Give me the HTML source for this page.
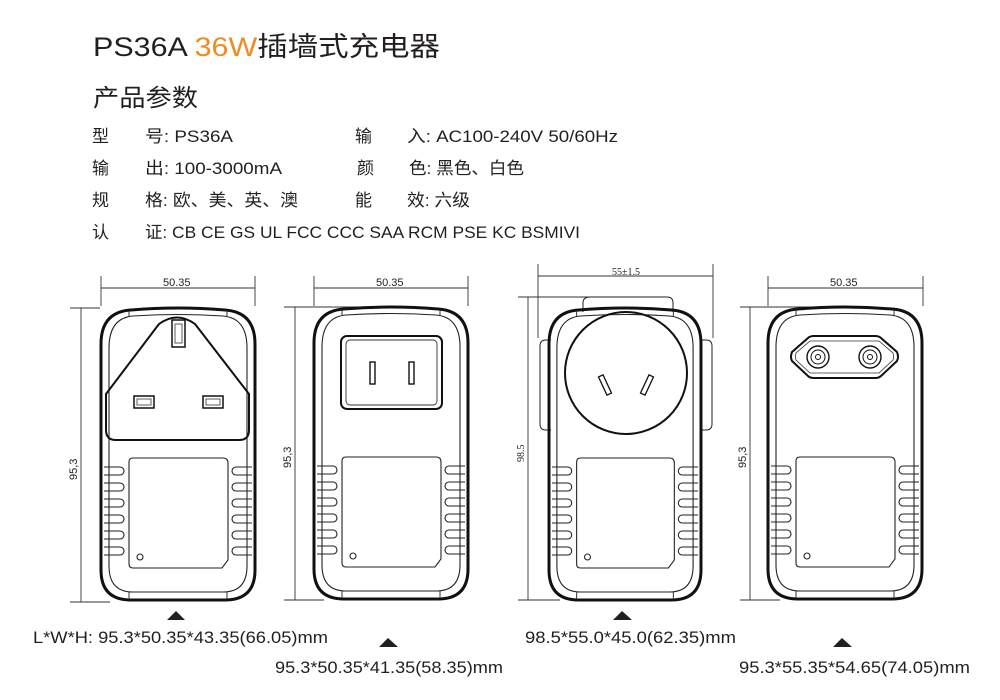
<!DOCTYPE html>
<html><head><meta charset="utf-8"><style>
html,body{margin:0;padding:0;background:#fff;}
svg{display:block}
.t{font-family:"Liberation Sans","Noto Sans CJK SC",sans-serif;fill:#231f20}
</style></head><body>
<svg width="1000" height="700" viewBox="0 0 1000 700" xmlns="http://www.w3.org/2000/svg">
<defs>
<g id="body">
  <path d="M0,36 Q0,4 30,2 Q77,-2 124,2 Q154,4 154,36 L154,262 Q154,292 124,292 L30,292 Q0,292 0,262 Z" fill="none" stroke="#111" stroke-width="3"/>
  <path d="M8,40 Q8,10 32,8 Q77,5 122,8 Q146,10 146,40 L146,258 Q146,284 122,284 L32,284 Q8,284 8,258 Z" fill="none" stroke="#222" stroke-width="1.1"/>
  <line x1="28" y1="3" x2="28" y2="8" stroke="#333"/><line x1="126" y1="3" x2="126" y2="8" stroke="#333"/>
  <line x1="28" y1="284" x2="28" y2="291" stroke="#333"/><line x1="126" y1="284" x2="126" y2="291" stroke="#333"/>
  <g fill="none" stroke="#222" stroke-width="1.1">
    <path d="M3,159 L19,159 A4,4 0 0 1 19,167 L3,167"/><path d="M3,175 L19,175 A4,4 0 0 1 19,183 L3,183"/>
    <path d="M3,191 L19,191 A4,4 0 0 1 19,199 L3,199"/><path d="M3,207 L19,207 A4,4 0 0 1 19,215 L3,215"/>
    <path d="M3,223 L19,223 A4,4 0 0 1 19,231 L3,231"/><path d="M3,239 L19,239 A4,4 0 0 1 19,247 L3,247"/>
    <path d="M151,159 L135,159 A4,4 0 0 0 135,167 L151,167"/><path d="M151,175 L135,175 A4,4 0 0 0 135,183 L151,183"/>
    <path d="M151,191 L135,191 A4,4 0 0 0 135,199 L151,199"/><path d="M151,207 L135,207 A4,4 0 0 0 135,215 L151,215"/>
    <path d="M151,223 L135,223 A4,4 0 0 0 135,231 L151,231"/><path d="M151,239 L135,239 A4,4 0 0 0 135,247 L151,247"/>
    <path d="M32,150 L122,150 Q127,150 127,155 L127,252 L121,260 L32,260 Q28,260 28,256 L28,154 Q28,150 32,150 Z"/>
    <circle cx="39" cy="249" r="3"/>
  </g>
</g>
</defs>

<text class="t" x="93" y="56" font-size="27" textLength="347" lengthAdjust="spacingAndGlyphs">PS36A <tspan fill="#f08a24">36W</tspan>插墙式充电器</text>
<text class="t" x="93" y="106" font-size="24" textLength="105" lengthAdjust="spacingAndGlyphs">产品参数</text>
<g class="t" font-size="17">
<text x="92" y="142">型</text><text x="145" y="142" textLength="88" lengthAdjust="spacingAndGlyphs">号: PS36A</text>
<text x="355" y="142">输</text><text x="407" y="142" textLength="211" lengthAdjust="spacingAndGlyphs">入: AC100-240V 50/60Hz</text>
<text x="92" y="174">输</text><text x="145" y="174" textLength="137" lengthAdjust="spacingAndGlyphs">出: 100-3000mA</text>
<text x="357" y="174">颜</text><text x="409" y="174" textLength="115" lengthAdjust="spacingAndGlyphs">色: 黑色、白色</text>
<text x="92" y="206">规</text><text x="145" y="206" textLength="153" lengthAdjust="spacingAndGlyphs">格: 欧、美、英、澳</text>
<text x="355" y="206">能</text><text x="407" y="206" textLength="63" lengthAdjust="spacingAndGlyphs">效: 六级</text>
<text x="92" y="238">认</text><text x="145" y="238" textLength="435" lengthAdjust="spacingAndGlyphs">证: CB CE GS UL FCC CCC SAA RCM PSE KC BSMIVI</text>
</g>

<!-- Device 1 (UK) -->
<g fill="none" stroke="#333" stroke-width="0.9">
<line x1="101" y1="276" x2="101" y2="306"/><line x1="255" y1="276" x2="255" y2="306"/>
<line x1="101" y1="288" x2="255" y2="288"/>
<line x1="70" y1="308" x2="100" y2="308"/><line x1="70" y1="602" x2="110" y2="602"/>
<line x1="81" y1="308" x2="81" y2="602"/>
</g>
<text class="t" x="163" y="286" font-size="11">50.35</text>
<text class="t" font-size="11" transform="translate(77,480) rotate(-90)">95,3</text>
<g transform="translate(101,308)"><use href="#body"/>
<path d="M5,86 L58,16 Q76,3 94,16 L148,86 L148,122 Q148,132 138,132 L15,132 Q5,132 5,122 Z" fill="none" stroke="#111" stroke-width="2"/>
<rect x="71" y="12" width="13" height="27" fill="none" stroke="#111" stroke-width="1.5"/><rect x="74" y="16" width="7" height="19" fill="none" stroke="#333" stroke-width="0.8"/>
<rect x="33" y="88" width="20" height="12" fill="none" stroke="#111" stroke-width="1.5"/><rect x="36" y="91" width="14" height="6" fill="none" stroke="#333" stroke-width="0.8"/>
<rect x="102" y="88" width="20" height="12" fill="none" stroke="#111" stroke-width="1.5"/><rect x="105" y="91" width="14" height="6" fill="none" stroke="#333" stroke-width="0.8"/>
</g>

<!-- Device 2 -->
<g fill="none" stroke="#333" stroke-width="0.9">
<line x1="314" y1="276" x2="314" y2="306"/><line x1="468" y1="276" x2="468" y2="306"/>
<line x1="314" y1="288" x2="468" y2="288"/>
<line x1="284" y1="307" x2="360" y2="307"/><line x1="284" y1="600" x2="324" y2="600"/>
<line x1="295" y1="307" x2="295" y2="600"/>
</g>
<text class="t" x="376" y="286" font-size="11">50.35</text>
<text class="t" font-size="11" transform="translate(291,468) rotate(-90)">95,3</text>
<g transform="translate(314,307)"><use href="#body"/>
<rect x="27" y="29" width="101" height="73" rx="6" fill="none" stroke="#111" stroke-width="2"/>
<rect x="32" y="33" width="91" height="65" rx="4" fill="none" stroke="#333" stroke-width="0.9"/>
<rect x="56" y="55" width="5" height="22" fill="none" stroke="#111" stroke-width="1.4"/>
<rect x="95" y="55" width="5" height="22" fill="none" stroke="#111" stroke-width="1.4"/>
</g>

<!-- Device 3 -->
<g fill="none" stroke="#333" stroke-width="0.9">
<line x1="538" y1="264" x2="538" y2="338"/><line x1="713" y1="264" x2="713" y2="338"/>
<line x1="538" y1="276" x2="713" y2="276"/>
<line x1="518" y1="297" x2="590" y2="297"/><line x1="518" y1="600" x2="560" y2="600"/>
<line x1="528" y1="297" x2="528" y2="600"/>
</g>
<text class="t" x="612" y="275" font-size="10" style="font-family:'Liberation Serif',serif">55±1.5</text>
<text class="t" font-size="10" transform="translate(524,462) rotate(-90)" style="font-family:'Liberation Serif',serif">98.5</text>
<g fill="none" stroke="#222" stroke-width="1">
<path d="M583,312 L583,303 Q583,297 590,297 L667,297 Q673,297 673,303 L673,312"/>
<path d="M551,340 L546,340 Q540,340 540,346 L540,424 Q540,430 546,430 L551,430"/>
<path d="M701,340 L706,340 Q712,340 712,346 L712,424 Q712,430 706,430 L701,430"/>
</g>
<g transform="translate(549,308) scale(0.987,1)"><use href="#body"/></g>
<circle cx="626" cy="373" r="61" fill="none" stroke="#111" stroke-width="2"/>
<g transform="translate(605,385) rotate(-25)"><rect x="-2.5" y="-10" width="5" height="20" fill="none" stroke="#111" stroke-width="1.3"/></g>
<g transform="translate(647,385) rotate(25)"><rect x="-2.5" y="-10" width="5" height="20" fill="none" stroke="#111" stroke-width="1.3"/></g>

<!-- Device 4 -->
<g fill="none" stroke="#333" stroke-width="0.9">
<line x1="768" y1="276" x2="768" y2="306"/><line x1="923" y1="276" x2="923" y2="306"/>
<line x1="768" y1="288" x2="923" y2="288"/>
<line x1="740" y1="307" x2="815" y2="307"/><line x1="740" y1="600" x2="780" y2="600"/>
<line x1="750" y1="307" x2="750" y2="600"/>
</g>
<text class="t" x="830" y="286" font-size="11">50.35</text>
<text class="t" font-size="11" transform="translate(746,468) rotate(-90)">95,3</text>
<g transform="translate(768,307)"><use href="#body"/>
<path d="M24,45 Q22,50 24,54 L40,69 Q42,71 46,71 L107,71 Q111,71 113,69 L129,54 Q131,50 129,45 L113,31 Q111,29 107,29 L46,29 Q42,29 40,31 Z" fill="none" stroke="#111" stroke-width="2"/>
<path d="M28,46 Q27,50 28,53 L42,66 L111,66 L125,53 Q126,50 125,46 L111,34 L42,34 Z" fill="none" stroke="#333" stroke-width="0.8"/>
<circle cx="50" cy="50" r="11" fill="none" stroke="#111" stroke-width="1.4"/><circle cx="50" cy="50" r="7" fill="none" stroke="#111" stroke-width="1"/><circle cx="50" cy="50" r="2.5" fill="none" stroke="#111"/>
<circle cx="102" cy="50" r="11" fill="none" stroke="#111" stroke-width="1.4"/><circle cx="102" cy="50" r="7" fill="none" stroke="#111" stroke-width="1"/><circle cx="102" cy="50" r="2.5" fill="none" stroke="#111"/>
</g>

<g fill="#231f20">
<polygon points="167,620 176,611 185,620"/>
<polygon points="379,647 388,638 398,647"/>
<polygon points="613,620 622,611 632,620"/>
<polygon points="833,647 842,638 852,647"/>
</g>
<g class="t" font-size="17">
<text x="33" y="643" textLength="295" lengthAdjust="spacingAndGlyphs">L*W*H: 95.3*50.35*43.35(66.05)mm</text>
<text x="275" y="673" textLength="228" lengthAdjust="spacingAndGlyphs">95.3*50.35*41.35(58.35)mm</text>
<text x="525" y="643" textLength="211" lengthAdjust="spacingAndGlyphs">98.5*55.0*45.0(62.35)mm</text>
<text x="739" y="673" textLength="231" lengthAdjust="spacingAndGlyphs">95.3*55.35*54.65(74.05)mm</text>
</g>
</svg>
</body></html>
